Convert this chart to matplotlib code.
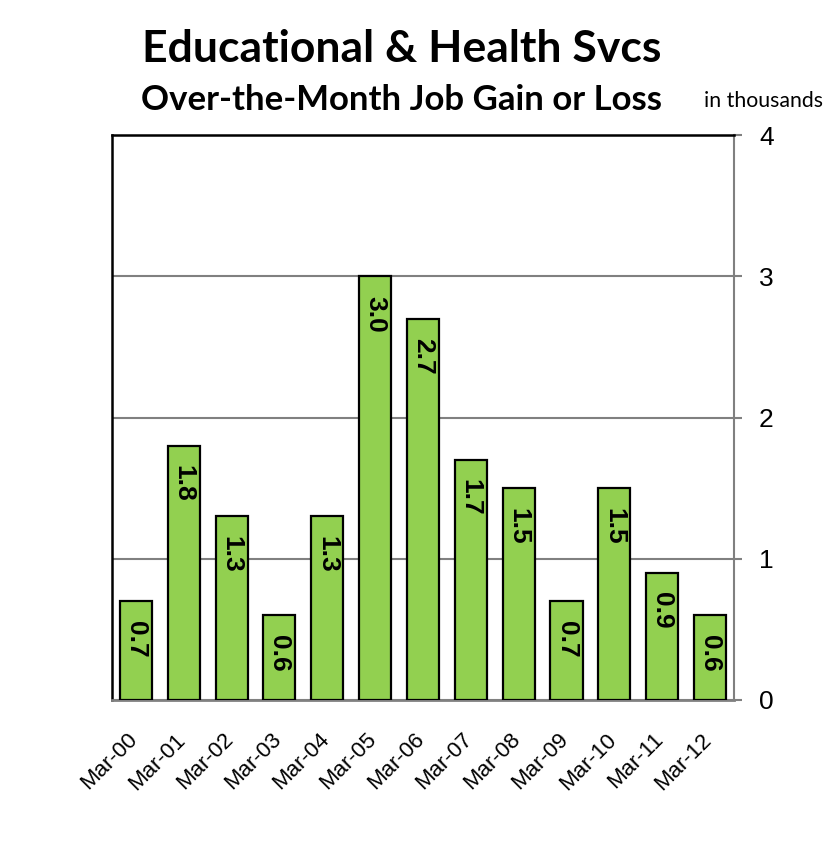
import matplotlib.pyplot as plt
import matplotlib.transforms as mtransforms
from matplotlib import font_manager

# dados
meses = ['Mar-00', 'Mar-01', 'Mar-02', 'Mar-03', 'Mar-04', 'Mar-05', 'Mar-06',
         'Mar-07', 'Mar-08', 'Mar-09', 'Mar-10', 'Mar-11', 'Mar-12']
valores = [0.7, 1.8, 1.3, 0.6, 1.3, 3.0, 2.7, 1.7, 1.5, 0.7, 1.5, 0.9, 0.6]
y_ticks = [0, 1, 2, 3, 4]

nomes = {f.name for f in font_manager.fontManager.ttflist}
fonte_titulo = 'Liberation Sans Narrow' if 'Liberation Sans Narrow' in nomes else 'Lato'
fonte_eixo = 'Liberation Sans'

fig = plt.figure(figsize=(8.27, 8.59), dpi=100)
ax = fig.add_axes([0.1354, 0.1851, 0.7521, 0.6577])

x = range(len(valores))
ax.bar(x, valores, width=0.67, color='#92D050', edgecolor='black',
       linewidth=1.6, zorder=3)

# rótulos dentro das barras
for xi, v in zip(x, valores):
    ax.annotate(f'{v:.1f}', (xi, v), xytext=(0, -14), textcoords='offset points',
                rotation=270, ha='center', va='top', fontsize=19,
                fontweight='bold', family=fonte_eixo, zorder=4)

ax.set_xlim(-0.5, len(valores) - 0.5)
ax.set_ylim(0, 4)
ax.set_yticks(y_ticks)
ax.yaxis.tick_right()
ax.tick_params(axis='y', direction='out', length=6, width=1.5, color='#808080',
               pad=12, labelsize=19)
for lbl in ax.get_yticklabels():
    lbl.set_family(fonte_eixo)
ax.grid(axis='y', color='#808080', linewidth=1.5, zorder=0)

ax.set_xticks(list(x))
ax.set_xticklabels(meses, rotation=45, ha='right', va='top',
                   rotation_mode='anchor', fontsize=16, family=fonte_eixo)
ax.tick_params(axis='x', length=0, pad=21)
desloc = mtransforms.ScaledTranslation(-0.09, 0, fig.dpi_scale_trans)
for lbl in ax.get_xticklabels():
    lbl.set_transform(lbl.get_transform() + desloc)

ax.spines['left'].set_color('black')
ax.spines['left'].set_linewidth(1.8)
ax.spines['top'].set_color('black')
ax.spines['top'].set_linewidth(1.8)
ax.spines['right'].set_color('#808080')
ax.spines['right'].set_linewidth(1.5)
ax.spines['bottom'].set_color('#808080')
ax.spines['bottom'].set_linewidth(2)

fig.text(0.486, 0.943, 'Educational & Health Svcs', ha='center', va='center',
         fontsize=32, fontweight='bold', family=fonte_titulo)
fig.text(0.486, 0.884, 'Over-the-Month Job Gain or Loss', ha='center',
         va='center', fontsize=25, fontweight='bold', family=fonte_titulo)
fig.text(0.851, 0.882, 'in thousands', ha='left', va='center', fontsize=15.3,
         family='Lato')

fig.savefig('out.png', dpi=100)
